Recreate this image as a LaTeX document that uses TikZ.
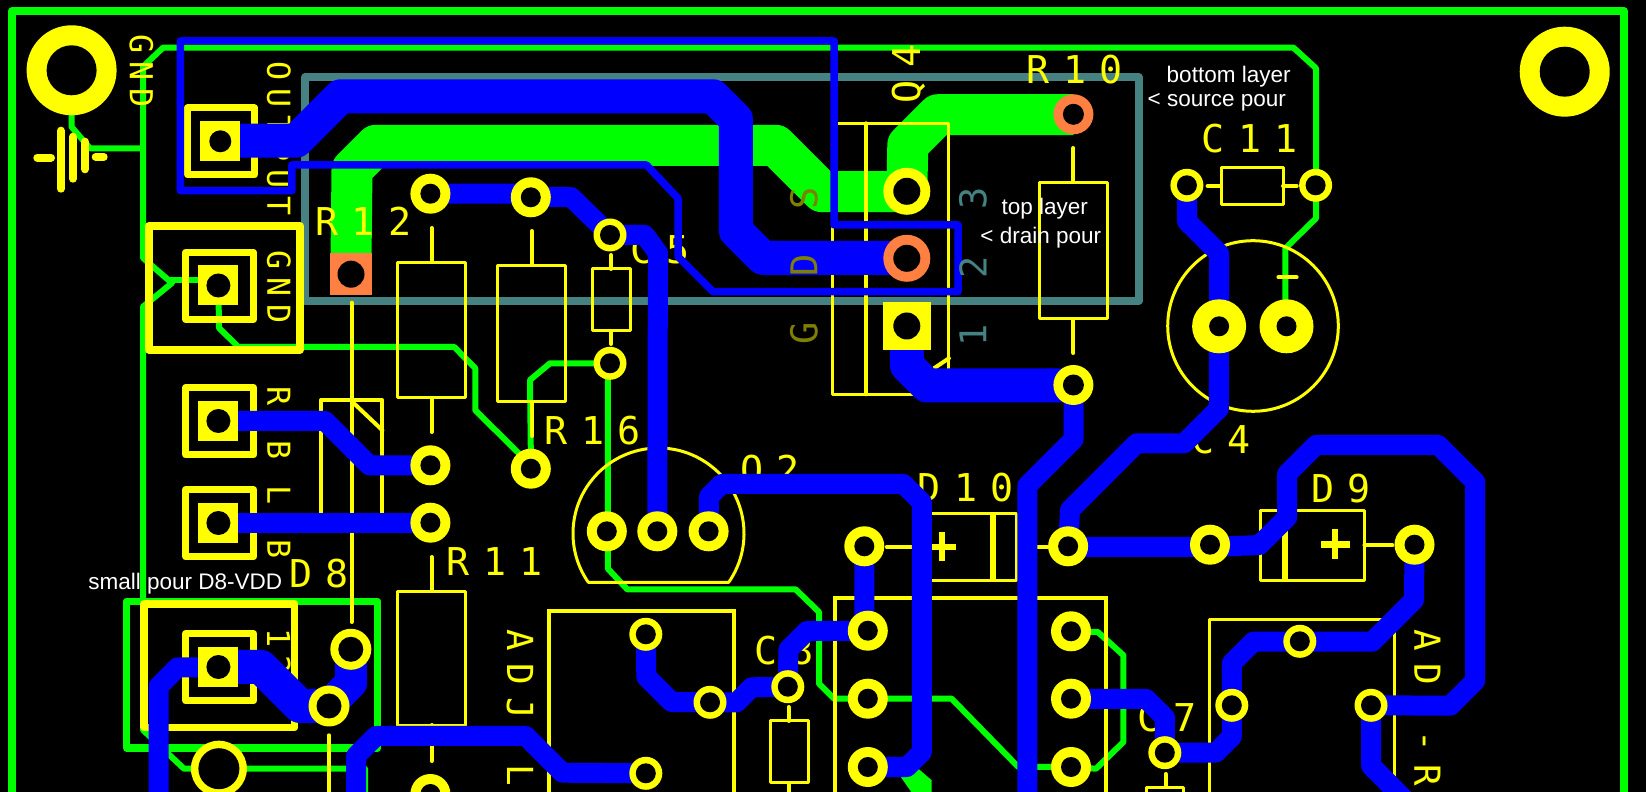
\documentclass[tikz,border=0pt]{standalone}
\usepackage{fontspec}
\setmainfont{Liberation Sans}
\newfontfamily\silkbig[LetterSpace=35]{DejaVu Sans Mono}
\newfontfamily\silkadj[LetterSpace=34]{DejaVu Sans Mono}
\newfontfamily\silksmall[LetterSpace=25]{DejaVu Sans Mono}
\definecolor{pcbblue}{RGB}{0,0,255}
\definecolor{pcbgreen}{RGB}{0,255,0}
\definecolor{pcbyellow}{RGB}{255,255,0}
\definecolor{pcbteal}{RGB}{70,130,130}
\definecolor{pcborange}{RGB}{255,128,64}
\definecolor{pcbolive}{RGB}{128,128,0}
\def \px {0.01cm}
\tikzset{
	trace/.style={draw=pcbblue,line width=20*\px,line join=round},
	wide/.style={trace,line width=34*\px},
	outline/.style={draw=pcbblue,line width=7.5*\px,line join=round},
	gtrace/.style={draw=pcbgreen,line width=6*\px,line join=round},
	gpour/.style={draw=pcbgreen,line width=41*\px,line join=round},
	silk/.style={draw=pcbyellow,line width=3*\px,line join=round},
	lead/.style={draw=pcbyellow,line width=4*\px,line cap=round},
	frame/.style={draw=pcbyellow,line width=7*\px,line join=round},
	bigtext/.style={text=pcbyellow,inner sep=0pt,font=\silkbig\fontsize{10.9}{12}\selectfont},
	adjtext/.style={text=pcbyellow,inner sep=0pt,rotate=-90,font=\silkadj\fontsize{10.2}{12}\selectfont},
	smalltext/.style={text=pcbyellow,inner sep=0pt,rotate=-90,font=\silksmall\fontsize{9}{11}\selectfont},
	layertext/.style={inner sep=0pt,rotate=90,font=\silksmall\fontsize{10.5}{12}\selectfont},
	note/.style={text=white,inner sep=0pt,anchor=base west,font=\fontsize{6.4}{8}\selectfont},
}
\begin{document}
\begin{tikzpicture}[x=0.01cm,y=-0.01cm]
	\useasboundingbox (0,0) rectangle (1646,792);
	\clip (0,0) rectangle (1646,792);
	\fill[black] (0,0) rectangle (1646,792);

	%pour frame
	\draw[draw=pcbteal,line width=7.7*\px,line join=round] (305.2,77) rectangle (1138.8,301);

	%top layer
	\draw[draw=pcbgreen,line width=7.7*\px,line join=round] (12.3,800) -- (12.3,11) -- (1624,11) -- (1624,800);
	\draw[gtrace] (365,800) -- (365,768.7) -- (184,768.7) -- (143,730) -- (143,306.7) -- (172,283) -- (168.4,280) -- (143,258) -- (143,66.7) -- (163,47.7) -- (1293.5,47.7) -- (1316,68.3) -- (1316,218.3) -- (1285.4,248.3) -- (1285.4,326.3);
	\draw[gtrace] (168.4,280) -- (218.4,280);
	\draw[gtrace] (71.6,70.3) -- (71.6,127) -- (90,148.3) -- (143,148.3);
	\draw[gtrace] (218.4,285) -- (219,328) -- (238.5,347) -- (454.3,347) -- (475.3,368.3) -- (475.3,410.3) -- (519.2,453.7) -- (530.8,468.7);
	\draw[gtrace] (531,468) -- (530,380) -- (550,363.3) -- (610,363.3);
	\draw[gtrace] (610,363.3) -- (607.9,380) -- (607.9,568.7) -- (627.2,589.3) -- (795.6,589.3) -- (819,612) -- (819,683.7) -- (834,698.7) -- (951.7,698.7) -- (1018.3,767) -- (1071,767);
	\draw[gtrace] (1071,631.3) -- (1097.8,632) -- (1123.4,655.3) -- (1123.4,742) -- (1096,768.7) -- (1071,767);
	\draw[draw=pcbgreen,line width=7.3*\px,line join=round] (126.6,601.3) rectangle (377.8,748);
	\fill[pcbgreen] (900.8,777) -- (918.3,768.7) -- (931.7,780.3) -- (931.7,792) -- (911.3,792) -- cycle;
	\draw[gpour] (351,260) -- (352,169.4) -- (376,145.3) -- (775.6,145.3) -- (822,191.7) -- (906.8,191.7);
	\draw[gpour] (906.8,191.3) -- (907.8,144.8) -- (937.9,114.7) -- (1073.4,114.7);

	%silkscreen
	\foreach \xa/\ya/\xb/\yb in {397.4/262.3/465.8/397.3, 497.4/265.7/565.8/402, 592/269/630.7/331, 1039.3/182.3/1107.6/319, 1221.2/167.3/1283/204.3, 397.4/591.3/465.8/725.3, 770.3/721/808.5/782.7, 1146.2/787/1183.7/800, 832.4/123.3/948.9/394.3, 921.8/513.7/1016.6/580.3, 1260.9/511/1364.4/580.3}
		\draw[silk] (\xa,\ya) rectangle (\xb,\yb);
	\foreach \xa/\ya/\xb/\yb in {431.5/228/431.5/262, 431.5/398/431.5/432, 531.8/231/531.8/265, 531.8/402/531.8/436, 611/255/611/269, 611/331/611/344, 1073.4/148/1073.4/182, 1073.4/319/1073.4/353, 1207.6/186/1221/186, 1283/186/1296.7/186, 431.5/557/431.5/591, 431.5/725/431.5/761, 788.5/707/788.5/721, 788.5/783/788.5/800, 886.8/547/921/547, 1037.6/547/1047.4/547, 1364.4/545.3/1392.4/545.3, 1165.5/774/1165.5/787, 351.5/302.7/351.5/622, 329/735.3/329/800, 866.4/123.3/866.4/394.3, 934/368.3/948.9/358.3, 1278.4/277.3/1296.6/277.3}
		\draw[lead] (\xa,\ya) -- (\xb,\yb);
	\draw[draw=pcbyellow,line width=4*\px,line join=round] (321,522) -- (321,400.3) -- (382.4,400.3) -- (382.4,522);
	\draw[lead] (352.5,402) -- (382.4,430.3);
	\draw[draw=pcbyellow,line width=4*\px] (549,800) -- (549,611.3) -- (733.5,611.3) -- (733.5,800);
	\draw[draw=pcbyellow,line width=4*\px] (834.8,800) -- (834.8,597.7) -- (1105.5,597.7) -- (1105.5,800);
	\draw[silk] (1209.3,800) -- (1209.3,619.7) -- (1394.2,619.7) -- (1394.2,800);
	\draw[silk] (1253,326) circle[radius=85.3*\px];
	\draw[silk] (728.7,582.3) arc[start angle=-34.8,end angle=214.8,radius=85.5*\px] -- cycle;
	\draw[draw=pcbyellow,line width=6.5*\px] (993.2,513.7) -- (993.2,580.3);
	\draw[draw=pcbyellow,line width=6.5*\px] (1285,530) -- (1285,580.3);
	\draw[draw=pcbyellow,line width=6.5*\px] (931.7,547) -- (956.2,547) (941.8,532) -- (941.8,561);
	\draw[draw=pcbyellow,line width=6.5*\px] (1320.5,544.3) -- (1350.3,544.3) (1335.2,529.3) -- (1335.2,558.7);
	\foreach \xa/\ya/\xb/\yb in {187.7/108/254.3/175, 185.9/252.3/253.6/319.3, 185.9/387.6/253.6/455, 185.9/489.7/253.6/557, 185.9/633.7/253.6/701}
		\draw[frame] (\xa,\ya) rectangle (\xb,\yb);
	\draw[frame,line width=8*\px] (149,226) rectangle (300,349.7);
	\draw[frame,line width=7.5*\px] (144.2,604) rectangle (294.7,727.7);
	%battery symbol
	\foreach \xa/\ya/\xb/\yb in {37.3/157.7/51/157.7, 61/130.7/61/188.7, 73/136.7/73/178.7, 85/141.7/85/169.3, 95.7/157/103.7/157}
		\draw[draw=pcbyellow,line width=8*\px,line cap=round] (\xa,\ya) -- (\xb,\yb);

	\node[smalltext] (lblgndtop) at (141.4,71.3) {GND};
	\node[smalltext] (lbloutput) at (278.9,138.3) {OUTPUT};
	\node[smalltext] (lblgnd) at (278.9,287.5) {GND};
	\node[smalltext] (lblrb) at (278.9,423.5) {R-B};
	\node[smalltext] (lbllb) at (278.9,522) {L-B};
	\node[smalltext] (lbltwelve) at (278.9,652) {12};
	\node[adjtext] (lbladjl) at (520,708) {ADJ-L};
	\node[adjtext] (lbladjr) at (1427.1,708) {ADJ-R};
	\node[bigtext] (lblrtwelve) at (363.5,221) {R12};
	\node[bigtext] (lblrten) at (1075,70) {R10};
	\node[bigtext] (lblcelev) at (1250,138.7) {C11};
	\node[bigtext,rotate=90] (lblqfour) at (909,74) {Q4};
	\node[bigtext] (lblrsix) at (593,431) {R16};
	\node[bigtext] (lblqtwo) at (770,472) {Q2};
	\node[bigtext] (lbldten) at (966,488) {D10};
	\node[bigtext] (lbldnine) at (1341,489) {D9};
	\node[bigtext] (lblcfour) at (1221,440) {C4};
	\node[bigtext] (lblceight) at (784,650.7) {C8};
	\node[bigtext] (lblcseven) at (1167,718) {C7};
	\node[bigtext] (lblcfive) at (660,250) {C5};
	\node[bigtext] (lbldeight) at (319,574) {D8};
	\node[bigtext] (lblrelev) at (495,562) {R11};

	%bottom layer
	\draw[wide] (220,140.7) -- (296.3,140.7) -- (340.7,96.3) -- (713,96.3) -- (735.9,119.2) -- (735.9,230.9) -- (762.8,257.8) -- (906.8,257.8);
	\draw[wide] (906.9,326) -- (907,365.5) -- (927,385.5) -- (1073.4,385.5);
	\draw[wide] (219,667) -- (261,667) -- (300,706) -- (329,706);
	\draw[wide,line width=32*\px] (350.8,649.3) -- (351,683) -- (329,705);
	\draw[outline] (180.3,41) -- (180.3,190.7) -- (291.9,190.7) -- (291.9,165) -- (646.5,165) -- (678,198.3) -- (678,256.7) -- (713.1,291.7) -- (958,291.7) -- (958,225) -- (834.1,225) -- (834.1,41) -- cycle;
	\draw[trace] (430.4,193.7) -- (530.8,193.7) -- (530.8,197) -- (571,197) -- (610,235) -- (644.7,235) -- (657.9,253) -- (657.3,531.3);
	\draw[trace] (219,421) -- (325,421) -- (369.3,465.3) -- (430.4,465.3);
	\draw[trace] (219,522.7) -- (430.4,522.7);
	\draw[trace] (158.7,800) -- (158.7,686.3) -- (177.7,667.3) -- (219,667.3);
	\draw[trace] (356,800) -- (356,756) -- (376,736) -- (525.7,736) -- (562.4,772.7) -- (645.8,773.3);
	\draw[trace] (708.6,531.3) -- (709,496.6) -- (721.6,484) -- (903.5,484) -- (921.8,502.3) -- (921.8,752.2) -- (907,767) -- (867.8,767);
	\draw[trace] (864.3,546.3) -- (864.3,620) -- (867.8,631);
	\draw[trace] (867.8,631) -- (807,631) -- (788.4,649.6) -- (787.8,686.7) -- (751.7,687.3) -- (736.7,702.3) -- (710,702.3) -- (671.6,702) -- (646.3,676.7) -- (645.8,634.3);
	\draw[trace] (1073.5,385) -- (1073.5,439.5) -- (1027.4,485.6) -- (1027.4,800);
	\draw[trace] (1068.1,546.3) -- (1070,510) -- (1136.7,443.3) -- (1184.2,443.3) -- (1218.8,408.7) -- (1219.1,253.4) -- (1187.2,221.6) -- (1186.9,185.3);
	\draw[trace] (1068.1,547) -- (1210,547) -- (1259.5,545) -- (1287.2,517.3) -- (1287.2,473.8) -- (1316,445) -- (1438.2,445) -- (1475.2,482) -- (1475.2,680.8) -- (1450.3,705.7) -- (1371,705.3) -- (1371.2,766) -- (1410,805);
	\draw[trace] (1414.5,544.7) -- (1414,600) -- (1372.3,641.7) -- (1253.3,641.7) -- (1231.9,663) -- (1231.8,736.6) -- (1216,752.5) -- (1164.8,752.7);
	\draw[trace] (1164.8,752.7) -- (1165,717.7) -- (1146.3,699) -- (1071,699);

	%square pads
	\foreach \x/\y/\c/\h in {220.3/141.3/pcbyellow/11, 218.4/285.5/pcbyellow/12, 218.4/421/pcbyellow/12, 218.4/523/pcbyellow/12, 218.4/667/pcbyellow/12} {
		\fill[\c] (\x-20,\y-20) rectangle (\x+20,\y+20);
		\fill[black] (\x,\y) circle[radius=\h*\px];
	}
	\fill[pcborange] (330,253.3) rectangle (372.2,295);
	\fill[black] (351,274.2) circle[radius=13.5*\px];
	\fill[pcbyellow] (882.9,302) rectangle (931,350);
	\fill[black] (906.8,326) circle[radius=13.5*\px];

	%round pads
	\foreach \x/\y/\r/\h/\c in {71.6/70.3/45/25/pcbyellow, 1564.7/71.7/45/25/pcbyellow, 906.8/191.3/23.5/13.5/pcbyellow, 906.8/258.3/23.5/13.5/pcborange, 1073.4/114.3/20/10.5/pcborange, 1073.4/385/20/10.5/pcbyellow, 1219.1/326.3/27/10/pcbyellow, 1286.5/326.3/27/10/pcbyellow, 350.8/649.3/20.5/12.5/pcbyellow, 329/706/20.5/12.5/pcbyellow, 218.9/768.7/28/20.5/pcbyellow}
	{
		\fill[\c] (\x,\y) circle[radius=\r*\px];
		\fill[black] (\x,\y) circle[radius=\h*\px];
	}
	\foreach \x/\y in {430.4/193.7, 530.8/197.3, 430.4/465.3, 430.4/522.7, 530.8/468.7, 606.8/531.3, 657.3/531.3, 708.6/531.3, 864.3/546.3, 1068.1/546.3, 867.8/630.7, 867.8/698.7, 867.8/767, 1071/631.3, 1071/698.7, 1071/767, 1210/544.7, 1414.5/544.7, 430.4/794}
	{
		\fill[pcbyellow] (\x,\y) circle[radius=20*\px];
		\fill[black] (\x,\y) circle[radius=10*\px];
	}
	\foreach \x/\y in {610/235, 610/363.3, 1186.9/185.3, 1315.6/185.3, 645.8/634.3, 710/702.3, 787.8/686.7, 645.8/773.3, 1299.8/641.3, 1231.8/705.3, 1371/705.3, 1164.8/752.7}
	{
		\fill[pcbyellow] (\x,\y) circle[radius=16.5*\px];
		\fill[black] (\x,\y) circle[radius=10*\px];
	}

	%layer labels
	\node[layertext,text=pcbteal] (lblthree) at (973,198.5) {3};
	\node[layertext,text=pcbteal] (lbltwo) at (973,267) {2};
	\node[layertext,text=pcbteal] (lblone) at (973,335) {1};
	\node[layertext,text=pcbolive] (lblsource) at (804,198) {S};
	\node[layertext,text=pcbolive] (lbldrain) at (804,265) {D};
	\node[layertext,text=pcbolive] (lblgate) at (804,333) {G};

	%notes
	\node[note] (notebottom) at (1166,83) {bottom layer};
	\node[note] (notesource) at (1147,106.7) {< source pour};
	\node[note] (notetop) at (1000.8,215) {top layer};
	\node[note] (notedrain) at (979.7,243.3) {< drain pour};
	\node[note] (notesmall) at (87.7,589.3) {small pour D8-VDD};
\end{tikzpicture}
\end{document}
